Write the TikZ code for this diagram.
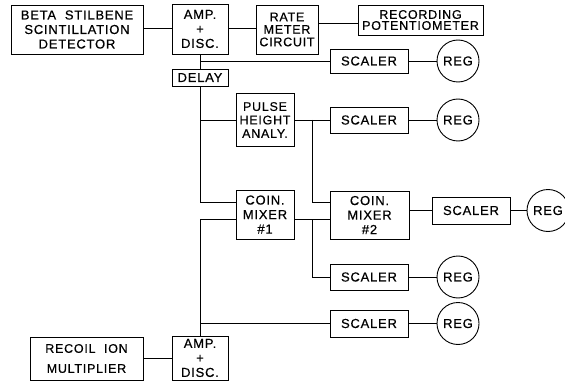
\documentclass[tikz,border=0pt]{standalone}
\usepackage{fontspec}
\setmainfont[LetterSpace=6,FakeBold=0.5]{Liberation Sans}
\begin{document}
\begin{tikzpicture}[x=1pt,y=-1pt,
  every node/.style={font=\fontsize{13}{14.5}\selectfont},
  box/.style={draw, line width=0.9pt, inner sep=0pt, align=center},
  reg/.style={draw, line width=0.9pt, circle, inner sep=0pt, minimum size=42pt},
  wire/.style={line width=0.8pt}]
\fill[white] (0,0) rectangle (565,385);
\path[use as bounding box, clip] (0,0) rectangle (565,385);
% boxes
\node[box, minimum width=132pt, minimum height=49pt] (beta) at (77,29.5) {BETA\ \ STILBENE\\SCINTILLATION\\DETECTOR};
\node[box, minimum width=56pt, minimum height=50pt] (amp1) at (200,29) {AMP.\\+\\DISC.};
\node[box, minimum width=62pt, minimum height=49pt, font=\fontsize{12.5}{12.5}\selectfont] (rate) at (287,29.5) {RATE\\METER\\CIRCUIT};
\node[box, minimum width=125pt, minimum height=30pt, font=\fontsize{12.5}{11}\selectfont] (rec) at (420.5,20) {RECORDING\\POTENTIOMETER};
\node[box, minimum width=56pt, minimum height=17pt] (delay) at (200,77.5) {DELAY};
\node[box, minimum width=78pt, minimum height=24pt] (sc1) at (369,61) {SCALER};
\node[reg] (reg1) at (458,61) {REG};
\node[box, minimum width=58pt, minimum height=53pt, font=\fontsize{12.5}{13.5}\selectfont] (pha) at (265,120) {PULSE\\HEIGHT\\ANALY.};
\node[box, minimum width=78pt, minimum height=26pt] (sc2) at (369,120) {SCALER};
\node[reg] (reg2) at (458,120) {REG};
\node[box, minimum width=58pt, minimum height=49pt] (cm1) at (265,214.5) {COIN.\\MIXER\\\#1};
\node[box, minimum width=79pt, minimum height=48pt] (cm2) at (369.5,215) {COIN.\\MIXER\\\#2};
\node[box, minimum width=78pt, minimum height=27pt] (sc3) at (471,210.5) {SCALER};
\node[reg] (reg3) at (548,210.5) {REG};
\node[box, minimum width=78pt, minimum height=26pt] (sc4) at (369,277) {SCALER};
\node[reg] (reg4) at (458,277) {REG};
\node[box, minimum width=78pt, minimum height=27pt] (sc5) at (369,323.5) {SCALER};
\node[reg] (reg5) at (458,323.5) {REG};
\node[box, minimum width=113pt, minimum height=43pt, font=\fontsize{12.5}{20}\selectfont] (recoil) at (86.5,358.5) {RECOIL\ \ ION\\MULTIPLIER};
\node[box, minimum width=56pt, minimum height=44pt] (amp2) at (200,358) {AMP.\\+\\DISC.};
% junctions
\coordinate (j1) at (200,61);
\coordinate (j2) at (312,120);
\coordinate (j3) at (312,219);
% connectors
\draw[wire] (beta.east |- 0,28) -- (amp1.west |- 0,28);
\draw[wire] (amp1.east |- 0,28) -- (rate.west |- 0,28);
\draw[wire] (rate.east |- 0,23) -- (rec.west |- 0,23);
\draw[wire] (amp1.south) -- (delay.north);
\draw[wire] (j1) -- (sc1.west);
\draw[wire] (sc1.east) -- (reg1.west);
\draw[wire] (delay.south) |- (cm1.west |- 0,202);
\draw[wire] (delay.south |- pha.west) -- (pha.west);
\draw[wire] (pha.east) -- (sc2.west);
\draw[wire] (sc2.east) -- (reg2.west);
\draw[wire] (j2) |- (cm2.west |- 0,202);
\draw[wire] (amp2.north) |- (cm1.west |- 0,219);
\draw[wire] (amp2.north |- sc5.west) -- (sc5.west);
\draw[wire] (cm1.east |- j3) -- (cm2.west |- j3);
\draw[wire] (j3) |- (sc4.west);
\draw[wire] (cm2.east |- sc3.west) -- (sc3.west);
\draw[wire] (sc3.east) -- (reg3.west);
\draw[wire] (sc4.east) -- (reg4.west);
\draw[wire] (sc5.east) -- (reg5.west);
\draw[wire] (recoil.east) -- (amp2.west |- recoil.east);
\end{tikzpicture}
\end{document}
